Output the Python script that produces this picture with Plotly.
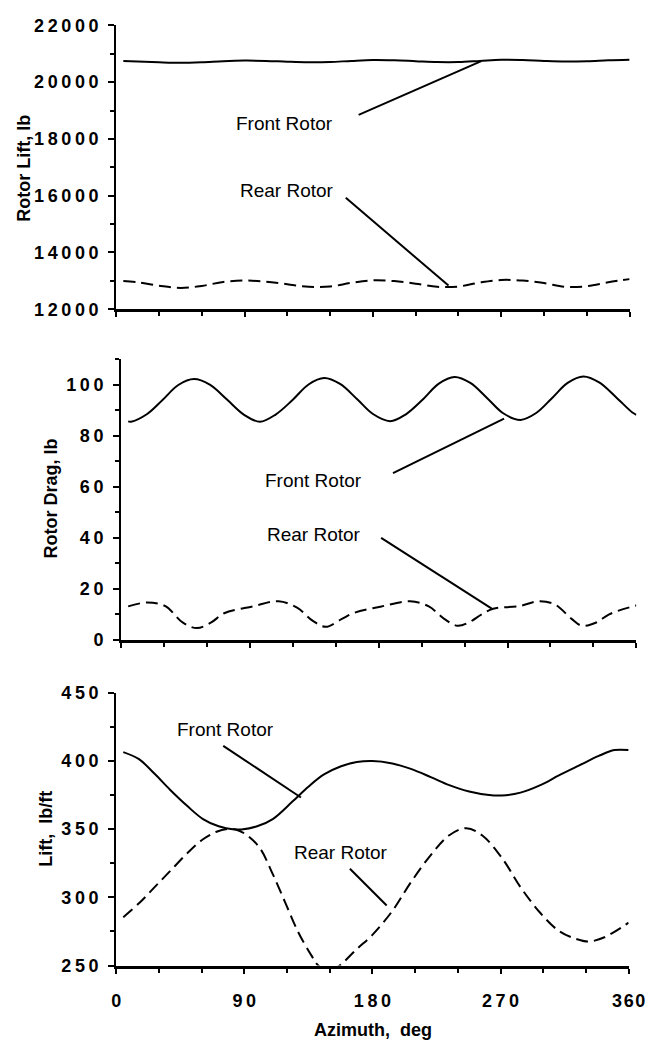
import plotly.graph_objects as go

# ---------------- data ----------------
azimuth_ticks = [0, 90, 180, 270, 360]

# Panel 1: rotor lift, lb
lift_ticks = [12000, 14000, 16000, 18000, 20000, 22000]
lift_front_az = [5, 15, 30, 45, 60, 75, 90, 105, 120, 135, 150, 165, 180, 195, 210, 225, 240, 255, 270, 285, 300, 315, 330, 345, 360]
lift_front = [20750, 20730, 20700, 20680, 20700, 20740, 20760, 20750, 20720, 20700, 20710, 20750, 20780, 20770, 20740, 20710, 20710, 20750, 20790, 20780, 20750, 20730, 20740, 20770, 20790]
lift_rear_az = [5, 15, 30, 45, 60, 75, 90, 105, 120, 135, 150, 165, 180, 195, 210, 225, 240, 255, 270, 285, 300, 315, 330, 345, 360]
lift_rear = [12990, 12950, 12830, 12750, 12820, 12960, 13010, 12970, 12880, 12790, 12800, 12930, 13020, 12990, 12900, 12790, 12800, 12940, 13030, 13010, 12920, 12790, 12810, 12950, 13060]

# Panel 2: rotor drag, lb
drag_ticks = [0, 20, 40, 60, 80, 100]
drag_front_az = [5, 7, 18, 29, 40, 51, 62, 74, 86, 97, 108, 120, 131, 142, 153, 165, 176, 188, 199, 211, 222, 233, 244, 256, 267, 279, 290, 301, 312, 323, 334, 346, 357, 360]
drag_front = [85.6, 85.5, 88.4, 94, 99.9, 102.2, 100, 94.2, 88.2, 85.5, 88.3, 94.1, 100.1, 102.6, 100.3, 94.3, 88.5, 85.7, 88.4, 94.3, 100.4, 103, 100.7, 94.6, 88.8, 86.2, 88.9, 94.7, 100.7, 103.2, 100.9, 95, 89.2, 88.2]
drag_rear_az = [5, 18, 31, 43, 53, 63, 72, 92, 110, 123, 134, 143, 154, 163, 182, 202, 215, 226, 235, 243, 252, 260, 278, 292, 303, 315, 322, 332, 341, 360]
drag_rear = [13, 14.5, 13.1, 6.7, 4.5, 6.7, 10.3, 13, 15, 12.5, 7.3, 5, 8, 10.5, 13, 15, 13, 8, 5.4, 6.7, 9.9, 12.1, 13.1, 15, 13.8, 8, 5.4, 6.7, 9.9, 13.4]

# Panel 3: lift, lb/ft
lpf_ticks = [250, 300, 350, 400, 450]
lpf_front_az = [5, 16, 27, 38, 50, 61, 72, 83, 88, 99, 110, 124, 135, 146, 158, 169, 180, 194, 207, 221, 234, 248, 262, 271, 284, 298, 311, 325, 339, 350, 360]
lpf_front = [406.5, 401.3, 390.6, 378.7, 366.9, 357.4, 352.1, 349.8, 349.8, 352.1, 357.4, 370.4, 381.1, 390.1, 396.1, 399.2, 400, 398.2, 394.2, 388.2, 382.3, 377.6, 375, 374.7, 376.8, 382.3, 389.4, 396.6, 403.7, 408, 408]
lpf_rear_az = [5, 16, 27, 38, 50, 61, 70, 78, 84, 92, 101, 110, 119, 128, 137, 142, 150, 157, 169, 180, 194, 207, 221, 234, 246, 257, 271, 284, 298, 311, 323, 332, 343, 360]
lpf_rear = [285.4, 295.6, 307.5, 319.4, 332.4, 342.6, 347.9, 350.2, 349.8, 345.5, 336, 317, 295.6, 274.2, 257.6, 250, 245.5, 250, 262, 272.5, 290, 311, 331, 345.5, 350.7, 345.5, 328.9, 307.5, 288.5, 275.4, 269.5, 267.6, 270.7, 281.4]

# ---------------- styling ----------------
TICKFONT = dict(family="Liberation Sans, Arial, sans-serif", size=18, color="black", weight="bold")
LABELFONT = dict(family="Liberation Sans, Arial, sans-serif", size=19, color="black")
TITLEFONT = dict(family="Liberation Sans, Arial, sans-serif", size=18, color="black", weight="bold")


def spaced(v, sep="\u2009"):
    return sep.join(str(v))


def yaxis_cfg(ticks, rng, minor_dtick, domain, anchor):
    return dict(
        domain=domain, anchor=anchor, range=rng,
        showline=True, linecolor="black", linewidth=2,
        ticks="outside", ticklen=6, tickwidth=2, tickcolor="black",
        tickvals=ticks, ticktext=[spaced(t) for t in ticks],
        tickfont=TICKFONT, ticklabelstandoff=6,
        minor=dict(ticks="outside", ticklen=4, tickwidth=2, tickcolor="black", dtick=minor_dtick, tick0=0),
        showgrid=False, zeroline=False, fixedrange=True,
    )


def xaxis_cfg(domain, anchor, show_labels):
    labels = [spaced(t) if t < 360 else spaced(t, "\u200a") for t in azimuth_ticks]
    return dict(
        domain=domain, anchor=anchor, range=[0, 360],
        showline=True, linecolor="black", linewidth=3,
        ticks="outside", ticklen=5, tickwidth=2, tickcolor="black",
        tickvals=azimuth_ticks, ticktext=labels,
        showticklabels=show_labels, tickfont=TICKFONT, ticklabelstandoff=12,
        minor=dict(ticks="outside", ticklen=4, tickwidth=2, tickcolor="black", dtick=30, tick0=0),
        showgrid=False, zeroline=False, fixedrange=True,
    )


W, H = 664, 1054


def px_x(p):
    return p / W


def px_y(p):
    return 1 - p / H


fig = go.Figure()

solid = dict(color="black", width=2, shape="spline", smoothing=1.0)
dashed = dict(color="black", width=2, shape="spline", smoothing=1.0, dash="12px,6px")

fig.add_trace(go.Scatter(x=lift_front_az, y=lift_front, mode="lines", line=solid, xaxis="x", yaxis="y"))
fig.add_trace(go.Scatter(x=lift_rear_az, y=lift_rear, mode="lines", line=dashed, xaxis="x", yaxis="y"))
fig.add_trace(go.Scatter(x=drag_front_az, y=drag_front, mode="lines", line=solid, xaxis="x2", yaxis="y2"))
fig.add_trace(go.Scatter(x=drag_rear_az, y=drag_rear, mode="lines", line=dashed, xaxis="x2", yaxis="y2"))
fig.add_trace(go.Scatter(x=lpf_front_az, y=lpf_front, mode="lines", line=solid, xaxis="x3", yaxis="y3"))
fig.add_trace(go.Scatter(x=lpf_rear_az, y=lpf_rear, mode="lines", line=dashed, xaxis="x3", yaxis="y3"))

# callout labels: (text, x, y, xref, yref, line start, line end)
callouts = [
    ("Front Rotor", 118, 18560, "x", "y", (170, 18850), (256, 20740)),
    ("Rear Rotor", 119.7, 16190, "x", "y", (161, 15924), (233, 12833)),
    ("Front Rotor", 134.5, 62.3, "x2", "y2", (190, 65.3), (267.6, 86.7)),
    ("Rear Rotor", 134.5, 41.2, "x2", "y2", (181.7, 39.9), (259, 12.1)),
    ("Front Rotor", 76.7, 422.9, "x3", "y3", (75.2, 411.1), (129.8, 373.2)),
    ("Rear Rotor", 158, 333, "x3", "y3", (164.2, 321), (190, 294)),
]

annotations = []
shapes = []
for text, tx, ty, xr, yr, p0, p1 in callouts:
    annotations.append(dict(text=text, x=tx, y=ty, xref=xr, yref=yr, showarrow=False,
                            font=LABELFONT, xanchor="center", yanchor="middle"))
    shapes.append(dict(type="line", xref=xr, yref=yr, x0=p0[0], y0=p0[1], x1=p1[0], y1=p1[1],
                       line=dict(color="black", width=2)))

titles = [
    ("Rotor Lift, lb", px_x(20), px_y(161.5), -90),
    ("Rotor Drag, lb", px_x(48), px_y(497.5), -90),
    ("Lift,  lb/ft", px_x(43), px_y(835), -90),
    ("Azimuth,  deg", px_x(381), px_y(1040), 0),
]
for text, x, y, ang in titles:
    annotations.append(dict(text=text, x=x, y=y, xref="paper", yref="paper", showarrow=False,
                            font=TITLEFONT, textangle=ang, xanchor="center", yanchor="middle"))

fig.update_layout(
    width=W, height=H,
    autosize=False,
    margin=dict(l=0, r=0, t=0, b=0),
    paper_bgcolor="white", plot_bgcolor="white",
    showlegend=False,
    xaxis=xaxis_cfg([px_x(115), px_x(646)], "y", False),
    yaxis=yaxis_cfg(lift_ticks, [12000, 22000], 1000, [px_y(305), px_y(15.7)], "x"),
    xaxis2=xaxis_cfg([px_x(120), px_x(653)], "y2", False),
    yaxis2=yaxis_cfg(drag_ticks, [0, 110], 10, [px_y(641.7), px_y(356)], "x2"),
    xaxis3=xaxis_cfg([px_x(115), px_x(645)], "y3", True),
    yaxis3=yaxis_cfg(lpf_ticks, [250, 450], 25, [px_y(974), px_y(696)], "x3"),
    annotations=annotations,
    shapes=shapes,
)

fig.write_html("out.html", config={"responsive": False})
